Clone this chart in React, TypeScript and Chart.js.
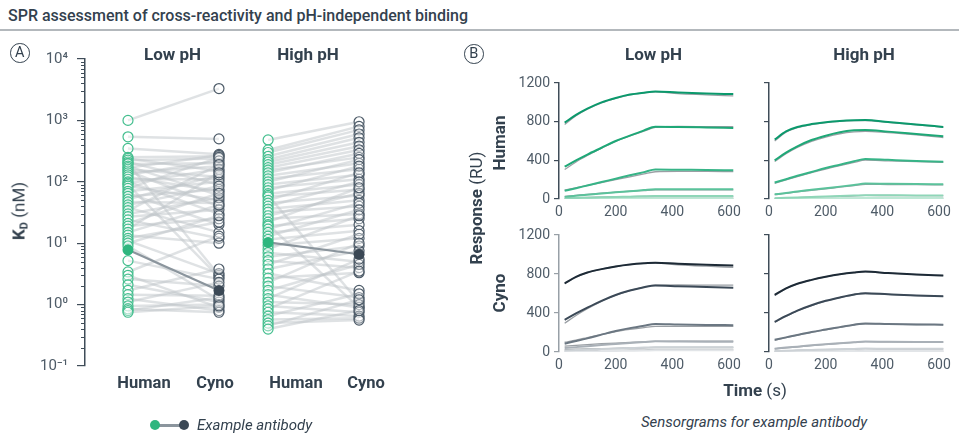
import React, { useEffect, useRef } from 'react';
import { Chart, registerables } from 'chart.js';

Chart.register(...registerables);

const FONT = 'Roboto, "Noto Sans", sans-serif';
const INK = '#33414e';
const TICK = '#4f5c68';
const AXIS_DARK = '#3f4c58';
const AXIS_LIGHT = '#98a0a7';
const GREEN = '#43be8e';
const GREEN_FILL = '#2fb67f';
const SLATE = '#4d5b68';
const SLATE_FILL = '#3b4855';

// ---------- Panel A: KD values (nM) ----------
const lowPHHuman = [1000, 540, 350, 250, 240, 225, 210, 200, 195, 180, 170, 160, 150, 140, 130, 120, 110, 100, 95, 90, 85, 78, 70, 65, 58, 52, 47, 42, 38, 34, 30, 27, 24, 21, 19, 17, 15, 13.5, 12, 11, 10, 9, 5.2, 3.4, 3.0, 2.6, 2.1, 1.7, 1.45, 1.25, 1.1, 0.95, 0.85, 0.8, 0.75];
const lowPHCyno = [3300, 500, 280, 260, 150, 240, 90, 3.0, 200, 60, 270, 120, 40, 180, 220, 70, 110, 30, 160, 2.8, 50, 250, 100, 20, 75, 130, 45, 85, 15, 190, 55, 35, 12, 65, 25, 140, 42, 10, 22, 3.2, 28, 1.2, 2.6, 13, 0.9, 2.0, 1.1, 3.8, 1.4, 0.8, 2.3, 1.0, 0.75, 1.3, 0.95];
const highPHHuman = [480, 330, 300, 260, 230, 210, 190, 170, 155, 140, 125, 112, 100, 90, 80, 72, 64, 60, 57, 50, 45, 40, 36, 32, 28, 25, 22, 20, 19, 17, 15, 13, 11.5, 9.2, 8, 7, 6, 5.2, 4.5, 3.8, 3.2, 2.7, 2.3, 2.0, 1.7, 1.45, 1.25, 1.1, 0.95, 0.85, 0.75, 0.65, 0.57, 0.5, 0.45, 0.4];
const highPHCyno = [950, 800, 700, 600, 520, 440, 380, 330, 250, 290, 200, 160, 230, 130, 110, 180, 90, 1.1, 75, 140, 60, 100, 50, 40, 65, 30, 80, 0.9, 25, 45, 20, 35, 16, 12, 28, 5, 9, 4, 14, 7.5, 1.7, 3.3, 10, 1.3, 4.5, 0.9, 5.5, 1.0, 0.75, 3.5, 0.65, 1.5, 0.6, 0.56, 1.2, 0.8];
const exampleLowPH = [7.8, 1.7];
const exampleHighPH = [10.3, 6.6];
const speciesNames = ['Human', 'Cyno'];
const phNames = ['Low pH', 'High pH'];
const kdTickValues = [0.1, 1, 10, 100, 1000, 10000];
const kdTickLabels = ['10⁻¹', '10⁰', '10¹', '10²', '10³', '10⁴'];
const kdMinorFactors = [2, 3, 4, 5, 6, 7, 8, 9];

// ---------- Panel B: sensorgrams (RU) ----------
const timeS = [20, 60, 100, 150, 200, 250, 300, 340, 420, 520, 615];
const responseTicks = [0, 400, 800, 1200];
const timeTicks = [0, 200, 400, 600];

const humanLowFit = [
  [790, 870, 935, 1000, 1045, 1080, 1100, 1112, 1102, 1092, 1085],
  [335, 400, 460, 530, 600, 655, 710, 748, 745, 740, 735],
  [85, 112, 140, 175, 210, 245, 278, 305, 303, 300, 298],
  [22, 33, 45, 58, 70, 80, 92, 100, 100, 100, 100],
  [6, 10, 13, 17, 21, 24, 28, 30, 30, 30, 30],
  [0, 2, 3, 4, 6, 7, 8, 9, 9, 9, 9],
];
const humanLowRaw = [
  [770, 862, 930, 995, 1042, 1078, 1098, 1108, 1090, 1078, 1066],
  [305, 383, 450, 526, 597, 652, 703, 740, 750, 749, 748],
  [92, 116, 140, 170, 200, 230, 260, 282, 285, 285, 284],
  [28, 38, 48, 60, 70, 80, 88, 94, 95, 95, 94],
  [10, 13, 16, 19, 22, 25, 27, 29, 29, 28, 28],
  [2, 3, 4, 5, 6, 7, 8, 8, 8, 8, 8],
];
const humanHighFit = [
  [615, 700, 745, 775, 795, 808, 815, 817, 797, 770, 746],
  [400, 480, 545, 610, 655, 690, 710, 715, 697, 672, 648],
  [170, 205, 240, 280, 320, 355, 390, 415, 405, 393, 385],
  [48, 62, 78, 95, 112, 128, 145, 160, 157, 154, 152],
  [8, 12, 16, 21, 26, 30, 35, 40, 39, 37, 36],
  [0, 2, 3, 4, 5, 7, 8, 10, 10, 10, 9],
];
const humanHighRaw = [
  [600, 690, 738, 770, 790, 803, 810, 812, 792, 768, 742],
  [388, 468, 533, 596, 641, 675, 694, 700, 686, 664, 636],
  [162, 198, 232, 272, 310, 345, 378, 402, 395, 386, 380],
  [45, 58, 74, 90, 106, 122, 138, 152, 150, 148, 146],
  [7, 11, 15, 20, 24, 28, 33, 37, 36, 35, 34],
  [0, 1, 2, 3, 4, 6, 7, 8, 8, 8, 8],
];
const cynoLowFit = [
  [705, 770, 815, 850, 878, 898, 910, 915, 905, 895, 888],
  [330, 395, 455, 525, 585, 630, 665, 682, 675, 666, 658],
  [85, 112, 140, 178, 215, 245, 270, 288, 283, 278, 275],
  [40, 50, 60, 72, 82, 92, 102, 110, 108, 106, 105],
  [15, 20, 25, 30, 35, 40, 45, 50, 49, 48, 48],
  [3, 5, 7, 9, 11, 13, 15, 18, 18, 17, 17],
];
const cynoLowRaw = [
  [700, 768, 814, 850, 877, 897, 908, 912, 895, 880, 868],
  [295, 375, 445, 520, 582, 630, 665, 685, 688, 686, 685],
  [100, 122, 148, 180, 210, 232, 250, 262, 262, 262, 262],
  [60, 68, 76, 85, 92, 98, 104, 110, 112, 112, 112],
  [25, 28, 31, 34, 37, 40, 43, 46, 46, 46, 46],
  [8, 10, 12, 14, 16, 18, 20, 22, 22, 22, 22],
];
const cynoHighFit = [
  [585, 652, 700, 740, 772, 798, 816, 825, 810, 795, 785],
  [310, 370, 425, 480, 525, 560, 590, 603, 592, 580, 573],
  [125, 150, 175, 205, 230, 255, 280, 293, 288, 283, 280],
  [34, 45, 55, 68, 80, 90, 100, 108, 105, 103, 102],
  [10, 14, 17, 21, 25, 28, 32, 35, 34, 34, 33],
  [2, 3, 4, 5, 6, 7, 8, 10, 10, 10, 10],
];
const cynoHighRaw = [
  [580, 650, 698, 738, 770, 796, 814, 823, 808, 793, 783],
  [305, 366, 421, 476, 521, 557, 587, 600, 590, 579, 571],
  [120, 147, 172, 202, 228, 253, 277, 290, 286, 282, 279],
  [32, 43, 53, 66, 78, 88, 98, 106, 104, 102, 101],
  [9, 13, 16, 20, 24, 27, 31, 34, 33, 33, 32],
  [1, 2, 3, 4, 5, 6, 7, 9, 9, 9, 9],
];
const humanShades = ['#0b996c', '#1ea877', '#37b487', '#5bc29b', '#8fd6b8', '#bde8d5'];
const cynoShades = ['#1d2a36', '#3b4957', '#6b7782', '#a9b0b7', '#cdd2d6', '#e2e5e8'];
const RAW_GREY = 'rgba(120,127,133,0.75)';

const GROUP_GAP = 1.54;

const minorTicksPlugin = {
  id: 'minorTicks',
  afterDraw(chart: any) {
    const s = chart.scales.y;
    const ctx = chart.ctx;
    const x = chart.chartArea.left;
    ctx.save();
    ctx.strokeStyle = AXIS_DARK;
    ctx.lineWidth = 1;
    for (let d = 0; d < kdTickValues.length - 1; d++) {
      for (const m of kdMinorFactors) {
        const y = Math.round(s.getPixelForValue(kdTickValues[d] * m)) + 0.5;
        ctx.beginPath();
        ctx.moveTo(x - 4, y);
        ctx.lineTo(x, y);
        ctx.stroke();
      }
    }
    ctx.restore();
  },
};

function buildKD(canvas: HTMLCanvasElement) {
  const datasets: any[] = [];
  const groups = [
    { h: lowPHHuman, c: lowPHCyno, ex: exampleLowPH },
    { h: highPHHuman, c: highPHCyno, ex: exampleHighPH },
  ];
  groups.forEach((g, gi) => {
    const x0 = gi * GROUP_GAP;
    datasets.push({
      data: g.ex.map((v, i) => ({ x: x0 + i, y: v })),
      borderColor: '#8b959d',
      borderWidth: 2.2,
      pointRadius: 5.5,
      pointBorderWidth: 0,
      pointBackgroundColor: [GREEN_FILL, SLATE_FILL],
      order: 0,
    });
    datasets.push({
      data: g.h.map((v) => ({ x: x0, y: v })),
      showLine: false,
      pointRadius: 5,
      pointBorderWidth: 1.2,
      pointBorderColor: GREEN,
      pointBackgroundColor: 'rgba(255,255,255,0.35)',
      order: 1,
    });
    datasets.push({
      data: g.c.map((v) => ({ x: x0 + 1, y: v })),
      showLine: false,
      pointRadius: 5,
      pointBorderWidth: 1.2,
      pointBorderColor: SLATE,
      pointBackgroundColor: 'rgba(255,255,255,0.35)',
      order: 1,
    });
    g.h.forEach((hv, i) => {
      datasets.push({
        data: [
          { x: x0, y: hv },
          { x: x0 + 1, y: g.c[i] },
        ],
        borderColor: 'rgba(192,197,201,0.5)',
        borderWidth: 2.5,
        pointRadius: 0,
        order: 2,
      });
    });
  });
  return new Chart(canvas, {
    type: 'line',
    data: { datasets },
    options: {
      animation: false,
      responsive: false,
      events: [],
      layout: { padding: { left: 0, top: 59, right: 40, bottom: 67 } },
      plugins: { legend: { display: false }, tooltip: { enabled: false } },
      scales: {
        x: { type: 'linear', display: false, min: -0.4725, max: 2.99 },
        y: {
          type: 'logarithmic',
          min: 0.1,
          max: 10000,
          afterBuildTicks: (s: any) => {
            s.ticks = kdTickValues.map((v) => ({ value: v }));
          },
          afterFit: (s: any) => {
            s.width = 85;
          },
          grid: { drawOnChartArea: false, tickLength: 8, color: AXIS_DARK, lineWidth: 1.2 },
          border: { display: true, color: AXIS_DARK, width: 1.5 },
          ticks: {
            color: TICK,
            font: { family: FONT, size: 15 },
            padding: 9,
            autoSkip: false,
            callback: (v: any) => {
              const i = kdTickValues.indexOf(Number(v));
              return i >= 0 ? kdTickLabels[i] : '';
            },
          },
        },
      },
    } as any,
    plugins: [minorTicksPlugin],
  });
}

function buildSensor(
  canvas: HTMLCanvasElement,
  fits: number[][],
  raws: number[][],
  shades: string[],
  showLabels: boolean,
  axisColor: string
) {
  const datasets: any[] = [];
  fits.forEach((curve, i) =>
    datasets.push({
      data: curve.map((v, j) => ({ x: timeS[j], y: v })),
      borderColor: shades[i],
      borderWidth: 2,
      pointRadius: 0,
      cubicInterpolationMode: 'monotone',
      order: 1,
    })
  );
  raws.forEach((curve) =>
    datasets.push({
      data: curve.map((v, j) => ({ x: timeS[j], y: v })),
      borderColor: RAW_GREY,
      borderWidth: 1.3,
      pointRadius: 0,
      cubicInterpolationMode: 'monotone',
      order: 2,
    })
  );
  return new Chart(canvas, {
    type: 'line',
    data: { datasets },
    options: {
      animation: false,
      responsive: false,
      events: [],
      layout: { padding: { left: 0, top: 20, right: 14.3, bottom: 0 } },
      plugins: { legend: { display: false }, tooltip: { enabled: false } },
      scales: {
        x: {
          type: 'linear',
          min: 0,
          max: 620,
          afterBuildTicks: (s: any) => {
            s.ticks = timeTicks.map((v) => ({ value: v }));
          },
          afterFit: (s: any) => {
            s.height = 24;
          },
          grid: { display: false, drawTicks: false },
          border: { display: false },
          ticks: { color: TICK, font: { family: FONT, size: 14 }, padding: 5, maxRotation: 0, autoSkip: false },
        },
        y: {
          min: 0,
          max: 1200,
          afterBuildTicks: (s: any) => {
            s.ticks = responseTicks.map((v) => ({ value: v }));
          },
          afterFit: (s: any) => {
            s.width = 60;
          },
          grid: { drawOnChartArea: false, tickLength: 5, color: axisColor, lineWidth: 1.2 },
          border: { display: true, color: axisColor, width: 1.5 },
          ticks: {
            color: TICK,
            font: { family: FONT, size: 14 },
            padding: 4,
            autoSkip: false,
            callback: (v: any) => (showLabels ? String(v) : ''),
          },
        },
      },
    } as any,
  });
}

type LProps = {
  x: number;
  y: number;
  children: React.ReactNode;
  size?: number;
  weight?: number;
  italic?: boolean;
  anchor?: 'start' | 'middle';
  rotate?: boolean;
  color?: string;
};

function Label({ x, y, children, size = 16, weight = 400, italic = false, anchor = 'middle', rotate = false, color = INK }: LProps) {
  const tx = anchor === 'middle' ? '-50%' : '0';
  return (
    <div
      style={{
        position: 'absolute',
        left: x,
        top: y,
        transform: `translate(${tx}, -50%)${rotate ? ' rotate(-90deg)' : ''}`,
        fontFamily: FONT,
        fontSize: size,
        fontWeight: weight,
        fontStyle: italic ? 'italic' : 'normal',
        color,
        lineHeight: 1,
        whiteSpace: 'nowrap',
      }}
    >
      {children}
    </div>
  );
}

function Circled({ x, y, letter }: { x: number; y: number; letter: string }) {
  return (
    <div
      style={{
        position: 'absolute',
        left: x - 10,
        top: y - 10,
        width: 17.5,
        height: 17.5,
        border: `1.3px solid ${INK}`,
        borderRadius: '50%',
        display: 'flex',
        alignItems: 'center',
        justifyContent: 'center',
        fontFamily: FONT,
        fontSize: 14.5,
        color: INK,
        lineHeight: 1,
      }}
    >
      {letter}
    </div>
  );
}

export default function App() {
  const kdRef = useRef<HTMLCanvasElement>(null);
  const tlRef = useRef<HTMLCanvasElement>(null);
  const trRef = useRef<HTMLCanvasElement>(null);
  const blRef = useRef<HTMLCanvasElement>(null);
  const brRef = useRef<HTMLCanvasElement>(null);

  useEffect(() => {
    const charts: Chart[] = [];
    if (kdRef.current) charts.push(buildKD(kdRef.current));
    if (tlRef.current) charts.push(buildSensor(tlRef.current, humanLowFit, humanLowRaw, humanShades, true, AXIS_DARK));
    if (trRef.current) charts.push(buildSensor(trRef.current, humanHighFit, humanHighRaw, humanShades, false, AXIS_DARK));
    if (blRef.current) charts.push(buildSensor(blRef.current, cynoLowFit, cynoLowRaw, cynoShades, true, AXIS_LIGHT));
    if (brRef.current) charts.push(buildSensor(brRef.current, cynoHighFit, cynoHighRaw, cynoShades, false, AXIS_DARK));
    return () => charts.forEach((c) => c.destroy());
  }, []);

  const abs = (left: number, top: number): React.CSSProperties => ({ position: 'absolute', left, top });

  return (
    <div style={{ position: 'fixed', left: 0, top: 0, width: 959, height: 433, background: '#fff', overflow: 'hidden' }}>
      <Label x={8} y={15.5} size={16} weight={500} anchor="start">
        SPR assessment of cross-reactivity and pH-independent binding
      </Label>
      <div style={{ position: 'absolute', left: 0, top: 29.3, width: 959, height: 1.5, background: '#b3b8bc' }} />

      {/* Panel A */}
      <canvas ref={kdRef} width={440} height={433} style={abs(0, 0)} />
      <Circled x={20} y={53} letter="A" />
      <Label x={172.5} y={53.5} size={17} weight={700}>{phNames[0]}</Label>
      <Label x={308} y={53.5} size={17} weight={700}>{phNames[1]}</Label>
      <Label x={144} y={382.5} size={16.5} weight={700}>{speciesNames[0]}</Label>
      <Label x={215} y={382.5} size={16.5} weight={700}>{speciesNames[1]}</Label>
      <Label x={296} y={382.5} size={16.5} weight={700}>{speciesNames[0]}</Label>
      <Label x={366} y={382.5} size={16.5} weight={700}>{speciesNames[1]}</Label>
      <Label x={19} y={210.5} size={17} rotate>
        <span style={{ fontWeight: 700 }}>
          K<span style={{ fontSize: 11, position: 'relative', top: 3 }}>D</span>
        </span>{' '}
        (nM)
      </Label>
      <div style={{ position: 'absolute', left: 155, top: 423.5, width: 29, height: 3, background: '#8b959d' }} />
      <div style={{ position: 'absolute', left: 150, top: 420, width: 10, height: 10, borderRadius: '50%', background: GREEN_FILL }} />
      <div style={{ position: 'absolute', left: 179, top: 420, width: 10, height: 10, borderRadius: '50%', background: SLATE_FILL }} />
      <Label x={197} y={425} size={15} italic anchor="start">Example antibody</Label>

      {/* Panel B */}
      <canvas ref={tlRef} width={250} height={160} style={abs(499, 63)} />
      <canvas ref={trRef} width={250} height={160} style={abs(709, 63)} />
      <canvas ref={blRef} width={250} height={161} style={abs(499, 215)} />
      <canvas ref={brRef} width={250} height={161} style={abs(709, 215)} />
      <Circled x={474} y={54} letter="B" />
      <Label x={653.5} y={54} size={17} weight={700}>{phNames[0]}</Label>
      <Label x={864} y={54} size={17} weight={700}>{phNames[1]}</Label>
      <Label x={499} y={142.5} size={17} weight={700} rotate>{speciesNames[0]}</Label>
      <Label x={499} y={293} size={17} weight={700} rotate>{speciesNames[1]}</Label>
      <Label x={476} y={208} size={17} rotate>
        <span style={{ fontWeight: 700 }}>Response</span> (RU)
      </Label>
      <Label x={755} y={390} size={17}>
        <span style={{ fontWeight: 700 }}>Time</span> (s)
      </Label>
      <Label x={754} y={422} size={15} italic>Sensorgrams for example antibody</Label>
    </div>
  );
}
